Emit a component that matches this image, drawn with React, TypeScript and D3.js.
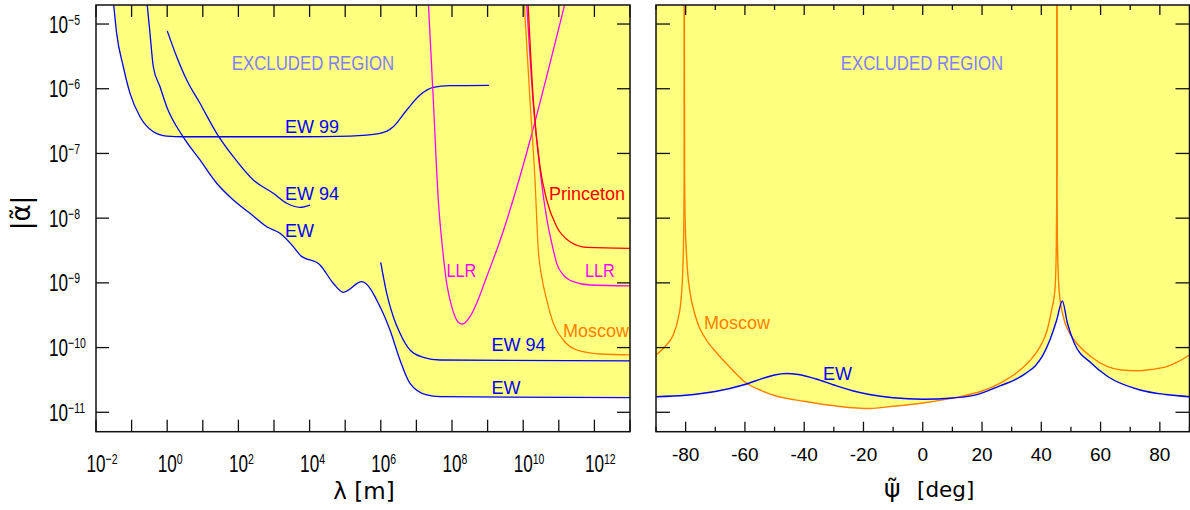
import React from "react";
import * as d3 from "d3";

// ---------- DATA ----------
// Left panel: points are [log10(lambda / m), log10(|alpha|)]
const ew99Curve = [
  [-1.52, -4.6], [-1.42, -5.144], [-1.233, -5.66], [-1.045, -6.071], [-0.764, -6.432],
  [-0.39, -6.664], [-0.014, -6.731], [0.452, -6.742], [3.73, -6.742], [5.135, -6.731],
  [5.978, -6.689], [6.351, -6.587], [6.728, -6.329], [7.101, -6.097], [7.475, -5.978],
  [7.944, -5.953], [9.039, -5.947],
];
const ewCurve = [
  [-0.58, -4.6], [-0.483, -5.144], [-0.39, -5.66], [-0.202, -5.969], [-0.014, -6.278],
  [0.444, -6.741], [0.921, -7.101], [1.39, -7.461], [1.857, -7.719], [2.326, -7.925],
  [2.795, -8.132], [3.169, -8.234], [3.542, -8.441], [3.73, -8.569], [4.292, -8.724],
  [4.666, -9.006], [4.947, -9.146], [5.463, -8.982], [5.978, -9.368], [6.258, -9.728],
  [6.539, -10.192], [6.82, -10.552], [7.289, -10.732], [7.663, -10.759], [13, -10.774],
];
const ew94LowCurve = [
  [0.003, -5.108], [0.267, -5.505], [0.548, -5.865], [0.921, -6.225], [1.39, -6.689],
  [1.857, -7.05], [2.419, -7.41], [2.98, -7.616], [3.357, -7.77], [3.73, -7.832], [4.011, -7.797],
];
const ew94HighCurve = [
  [5.997, -8.682], [6.166, -9.161], [6.351, -9.523], [6.539, -9.779], [6.82, -10.037],
  [7.194, -10.15], [7.663, -10.192], [13, -10.207],
];
const llrDipCurve = [
  [7.33, -4.6], [7.475, -6.174], [7.615, -7.719], [7.739, -8.492], [7.851, -9.006],
  [7.992, -9.368], [8.132, -9.574], [8.289, -9.636], [8.506, -9.523], [8.694, -9.316],
  [8.975, -8.904], [9.256, -8.492], [11.21, -4.6],
];
const llrFarCurve = [
  [10.09, -4.6], [10.275, -6.174], [10.472, -7.256], [10.669, -8.028], [10.846, -8.492],
  [10.941, -8.698], [11.126, -8.878], [11.407, -8.982], [11.876, -9.033], [13, -9.048],
];
const moscowFarCurve = [
  [10.02, -4.6], [10.191, -6.174], [10.331, -7.41], [10.424, -8.492], [10.52, -8.904],
  [10.66, -9.264], [10.846, -9.624], [11.126, -9.883], [11.503, -10.037], [12.157, -10.099],
  [13, -10.114],
];
const princetonCurve = [
  [10.13, -4.6], [10.284, -6.174], [10.472, -7.205], [10.66, -7.719], [10.941, -8.132],
  [11.315, -8.364], [11.784, -8.45], [13, -8.466],
];

// Right panel: points are [psi (deg), log10(|alpha|)]
const ewPsiCurve = [
  [-90, -10.759], [-80, -10.737], [-70, -10.678], [-60, -10.57], [-54, -10.477],
  [-50, -10.423], [-46, -10.4], [-42, -10.416], [-36, -10.485], [-30, -10.578],
  [-24, -10.663], [-18, -10.725], [-10, -10.776], [0, -10.799], [10, -10.779],
  [18, -10.732], [26, -10.593], [31, -10.5], [35, -10.39], [38, -10.28], [40.5, -10.12],
  [42.9, -9.883], [45.2, -9.574], [47.1, -9.28], [48.8, -9.62], [51.1, -9.929],
  [56.8, -10.238], [62.4, -10.447], [73.3, -10.655], [82, -10.725], [90, -10.759],
];
const moscowPsiA = [
  [-90, -10.114], [-86.5, -9.96], [-84.2, -9.805], [-82.5, -9.543], [-81.5, -9.234],
  [-80.9, -8.724], [-80.6, -8.028], [-80.5, -7.333], [-80.45, -4.0],
];
const moscowPsiB = [
  [-80.45, -4.0], [-80.35, -7.333], [-80.15, -8.028], [-79.6, -8.646], [-78.5, -9.156],
  [-77.45, -9.388], [-75.7, -9.651], [-73.45, -9.852], [-69.5, -10.083], [-65.45, -10.284],
  [-60, -10.531], [-55, -10.655], [-50, -10.74], [-40, -10.83], [-28, -10.91],
  [-18, -10.941], [-10, -10.907], [0, -10.856], [12.6, -10.759], [20, -10.671],
  [26, -10.552], [32, -10.377], [36, -10.207], [39.6, -9.986], [42, -9.728],
  [43.5, -9.419], [44.6, -9.11], [45.05, -8.492], [45.2, -7.719], [45.25, -4.0],
];
const moscowPsiC = [
  [45.25, -4.0], [45.3, -7.719], [45.5, -8.492], [46, -9.11], [47.4, -9.523],
  [49, -9.728], [51.1, -9.883], [56.8, -10.141], [62.4, -10.295], [67, -10.346],
  [72.2, -10.357], [77, -10.338], [82.3, -10.295], [86, -10.222], [90, -10.114],
];

const lambdaTickExps = [-2, 0, 2, 4, 6, 8, 10, 12];
const lambdaMinorExps = d3.range(-2, 14);
const alphaTickExps = [-5, -6, -7, -8, -9, -10, -11];
const psiTickLabels = [-80, -60, -40, -20, 0, 20, 40, 60, 80];
const psiTicks = d3.range(-90, 91, 10);

// ---------- LAYOUT ----------
const W = 1190;
const H = 510;
const TOP = 5;
const BOTTOM = 431.7;
const L0 = 96, L1 = 630;
const R0 = 656, R1 = 1189.5;

const YELLOW = "#ffff80";
const BLUE = "#0000ff";
const MAGENTA = "#ff00ff";
const ORANGE = "#ff8000";
const RED = "#ff0000";
const LAV = "#8080ff";
const AX = "#111";

const yScale = d3.scaleLog().domain([10 ** -11.3, 10 ** -4.706]).range([BOTTOM, TOP]);
const xLam = d3.scaleLog().domain([1e-2, 1e13]).range([L0, L1]);
const xPsi = d3.scaleLinear().domain([-90, 90]).range([R0, R1]);

const lamLine = d3
  .line<number[]>()
  .x((d) => xLam(10 ** d[0]))
  .y((d) => yScale(10 ** d[1]))
  .curve(d3.curveMonotoneX);
const lamArea = d3
  .area<number[]>()
  .x((d) => xLam(10 ** d[0]))
  .y0(TOP - 20)
  .y1((d) => yScale(10 ** d[1]))
  .curve(d3.curveMonotoneX);
const psiLine = d3
  .line<number[]>()
  .x((d) => xPsi(d[0]))
  .y((d) => yScale(10 ** d[1]))
  .curve(d3.curveMonotoneX);
const psiArea = d3
  .area<number[]>()
  .x((d) => xPsi(d[0]))
  .y0(TOP - 20)
  .y1((d) => yScale(10 ** d[1]))
  .curve(d3.curveMonotoneX);

const SANS = "'Liberation Sans', Arial, sans-serif";
const DEJA = "'DejaVu Sans', sans-serif";

function SText(props: any) {
  const { x, y, sx = 1, anchor = "start", children, ...rest } = props;
  return (
    <text
      transform={`translate(${x},${y}) scale(${sx},1)`}
      textAnchor={anchor}
      fontFamily={SANS}
      {...rest}
    >
      {children}
    </text>
  );
}

function Pow({ x, y, e }: { x: number; y: number; e: number }) {
  const s = e < 0 ? "\u2212" + Math.abs(e) : String(e);
  return (
    <SText x={x} y={y} sx={0.7} fill="#000">
      <tspan fontSize={24.5}>10</tspan>
      <tspan fontSize={15} dy={-8}>
        {s}
      </tspan>
    </SText>
  );
}

export default function App() {
  const leftCurves = [
    { d: ew99Curve, c: BLUE },
    { d: ewCurve, c: BLUE },
    { d: ew94LowCurve, c: BLUE },
    { d: ew94HighCurve, c: BLUE },
    { d: llrDipCurve, c: MAGENTA },
    { d: llrFarCurve, c: MAGENTA },
    { d: moscowFarCurve, c: ORANGE },
    { d: princetonCurve, c: RED },
  ];
  const rightCurves = [
    { d: moscowPsiA, c: ORANGE },
    { d: moscowPsiB, c: ORANGE },
    { d: moscowPsiC, c: ORANGE },
    { d: ewPsiCurve, c: BLUE },
  ];

  return (
    <svg
      width={W}
      height={H}
      style={{ position: "absolute", left: 0, top: 0, background: "#fff" }}
    >
      <defs>
        <clipPath id="clipL">
          <rect x={L0} y={TOP} width={L1 - L0} height={BOTTOM - TOP} />
        </clipPath>
        <clipPath id="clipR">
          <rect x={R0} y={TOP} width={R1 - R0} height={BOTTOM - TOP} />
        </clipPath>
      </defs>

      {/* ---------- LEFT PANEL ---------- */}
      <g clipPath="url(#clipL)">
        {leftCurves.map((c, i) => (
          <path key={"la" + i} d={lamArea(c.d as any) || ""} fill={YELLOW} stroke="none" />
        ))}
        {leftCurves.map((c, i) => (
          <path key={"ll" + i} d={lamLine(c.d as any) || ""} fill="none" stroke={c.c} strokeWidth={1.3} />
        ))}
      </g>
      {lambdaMinorExps.map((e) => {
        const x = xLam(10 ** e);
        return (
          <g key={"lt" + e}>
            <line x1={x} x2={x} y1={BOTTOM} y2={BOTTOM - 12} stroke={AX} strokeWidth={1.3} />
            <line x1={x} x2={x} y1={TOP} y2={TOP + 12} stroke={AX} strokeWidth={1.3} />
          </g>
        );
      })}
      {alphaTickExps.map((e) => {
        const y = yScale(10 ** e);
        return (
          <g key={"lyt" + e}>
            <line x1={L0} x2={L0 + 13} y1={y} y2={y} stroke={AX} strokeWidth={1.3} />
            <line x1={L1} x2={L1 - 13} y1={y} y2={y} stroke={AX} strokeWidth={1.3} />
          </g>
        );
      })}
      <rect x={L0} y={TOP} width={L1 - L0} height={BOTTOM - TOP} fill="none" stroke={AX} strokeWidth={1.5} />
      {alphaTickExps.map((e) => (
        <Pow key={"ly" + e} x={49} y={yScale(10 ** e) + 8.5} e={e} />
      ))}
      {lambdaTickExps.map((e) => (
        <Pow key={"lx" + e} x={xLam(10 ** e) - 9.5} y={471.5} e={e} />
      ))}
      <text x={364} y={499} textAnchor="middle" fontFamily={DEJA} fontSize={23} fill="#000">
        λ [m]
      </text>
      <text
        transform="translate(30,213) rotate(-90)"
        textAnchor="middle"
        fontFamily={DEJA}
        fontSize={26}
        fill="#000"
      >
        |α̃|
      </text>

      <SText x={313} y={70} sx={0.84} anchor="middle" fontSize={20} fill={LAV}>
        EXCLUDED REGION
      </SText>
      <SText x={285} y={133} fontSize={18} fill={BLUE}>EW 99</SText>
      <SText x={285} y={199.5} fontSize={18} fill={BLUE}>EW 94</SText>
      <SText x={285} y={237} fontSize={18} fill={BLUE}>EW</SText>
      <SText x={549} y={199.5} fontSize={18} fill={RED}>Princeton</SText>
      <SText x={446.5} y={277} sx={0.9} fontSize={18} fill={MAGENTA}>LLR</SText>
      <SText x={585} y={277} sx={0.9} fontSize={18} fill={MAGENTA}>LLR</SText>
      <SText x={563} y={337} fontSize={18} fill={ORANGE}>Moscow</SText>
      <SText x={491.5} y={351} fontSize={18} fill={BLUE}>EW 94</SText>
      <SText x={491.5} y={393.5} fontSize={18} fill={BLUE}>EW</SText>

      {/* ---------- RIGHT PANEL ---------- */}
      <g clipPath="url(#clipR)">
        {rightCurves.map((c, i) => (
          <path key={"ra" + i} d={psiArea(c.d as any) || ""} fill={YELLOW} stroke="none" />
        ))}
        {rightCurves.map((c, i) => (
          <path key={"rl" + i} d={psiLine(c.d as any) || ""} fill="none" stroke={c.c} strokeWidth={1.4} />
        ))}
      </g>
      {psiTicks.map((t) => {
        const x = xPsi(t);
        const len = t % 20 === 0 ? 10 : 5;
        return (
          <g key={"rt" + t}>
            <line x1={x} x2={x} y1={BOTTOM} y2={BOTTOM - len} stroke={AX} strokeWidth={1.3} />
            <line x1={x} x2={x} y1={TOP} y2={TOP + len} stroke={AX} strokeWidth={1.3} />
          </g>
        );
      })}
      {alphaTickExps.map((e) => {
        const y = yScale(10 ** e);
        return (
          <g key={"ryt" + e}>
            <line x1={R0} x2={R0 + 14} y1={y} y2={y} stroke={AX} strokeWidth={1.3} />
            <line x1={R1} x2={R1 - 14} y1={y} y2={y} stroke={AX} strokeWidth={1.3} />
          </g>
        );
      })}
      <rect x={R0} y={TOP} width={R1 - R0} height={BOTTOM - TOP} fill="none" stroke={AX} strokeWidth={1.5} />
      {psiTickLabels.map((t) => (
        <SText key={"rx" + t} x={xPsi(t)} y={461} anchor="middle" fontSize={19} fill="#000">
          {t < 0 ? "-" + Math.abs(t) : String(t)}
        </SText>
      ))}
      <text x={884} y={497} fontFamily={DEJA} fontSize={25} fill="#000">ψ̃</text>
      <text x={917} y={497} fontFamily={DEJA} fontSize={21.5} fill="#000">[deg]</text>
      <SText x={922} y={70} sx={0.84} anchor="middle" fontSize={20} fill={LAV}>
        EXCLUDED REGION
      </SText>
      <SText x={704} y={329} fontSize={18} fill={ORANGE}>Moscow</SText>
      <SText x={823} y={380} fontSize={18} fill={BLUE}>EW</SText>
    </svg>
  );
}
